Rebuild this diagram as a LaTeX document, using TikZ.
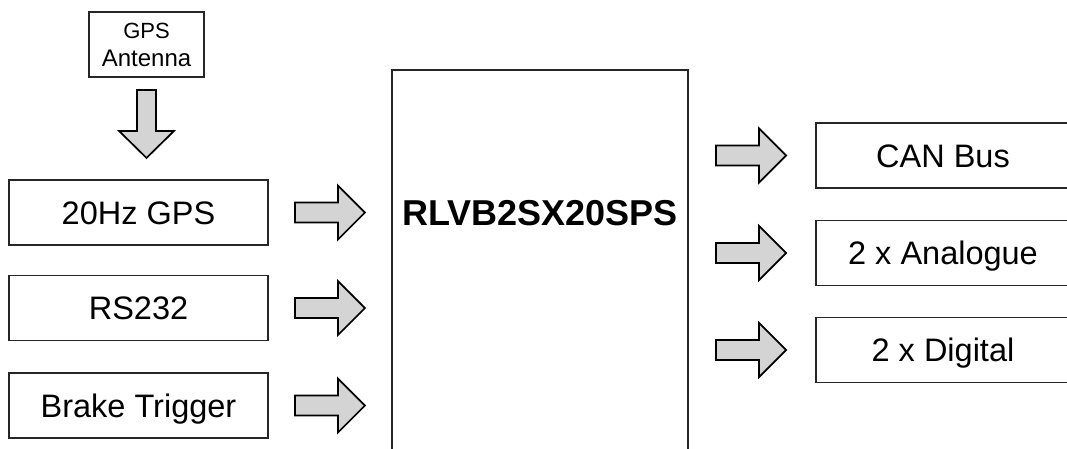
\documentclass[tikz,border=0pt]{standalone}
\usepackage{fontspec}
\setmainfont{Liberation Sans}
\usetikzlibrary{calc}
\newcommand\RArrow[2]{\draw[barrow] ($(#1)+(#2,-10)$) -- ++(43,0) -- ++(0,-17) -- ++(27,27) -- ++(-27,27) -- ++(0,-17) -- ++(-43,0) -- cycle;}
\begin{document}
\begin{tikzpicture}[x=1pt,y=-1pt,
  box/.style={draw=black!85, line width=1.9pt, inner sep=0pt, fill=white},
  lbl/.style={font=\fontsize{32.5}{38}\selectfont, text height=23pt, text depth=0pt},
  lbox/.style={box, lbl, minimum width=259pt, minimum height=65pt},
  rbox/.style={box, lbl, minimum width=254pt, minimum height=65pt},
  barrow/.style={draw=black, line width=1.7pt, fill=black!17, line join=miter}]
\useasboundingbox (0,0) rectangle (1067,448);
\clip (0,0) rectangle (1067,448);
\fill[white] (0,0) rectangle (1067,448);

% antenna
\node[box, minimum width=115pt, minimum height=65pt, align=center,
      font=\fontsize{24}{28}\selectfont] (ant) at (146.5,44.5)
  {{\fontsize{22}{28}\selectfont GPS}\\Antenna};

% left boxes
\node[lbox] (g1) at (138.5,212.5) {20Hz GPS};
\node[lbox] (g2) at (138.5,308) {RS232};
\node[lbox] (g3) at (138.5,405.5) {Brake Trigger};

% main box
\node[box, minimum width=296pt, minimum height=400pt] (main) at (540,270) {};
\node[font=\fontsize{36}{40}\selectfont\bfseries, text height=26pt, text depth=0pt] (mainlbl) at (540,212) {RLVB2SX20SPS};

% right boxes
\node[rbox] (c1) at (943,155.5) {CAN Bus};
\node[rbox] (c2) at (943,253) {2 x Analogue};
\node[rbox] (c3) at (943,350) {2 x Digital};

% down arrow
\draw[barrow] ($(ant.south)+(-9.5,12)$) -- ++(19,0) -- ++(0,41) -- ++(18,0) -- ++(-27.5,27) -- ++(-27.5,-27) -- ++(18,0) -- cycle;

% left arrows
\RArrow{g1.east}{26}
\RArrow{g2.east}{26}
\RArrow{g3.east}{26}

% right arrows
\RArrow{c1.west}{-99}
\RArrow{c2.west}{-99}
\RArrow{c3.west}{-99}
\end{tikzpicture}
\end{document}
